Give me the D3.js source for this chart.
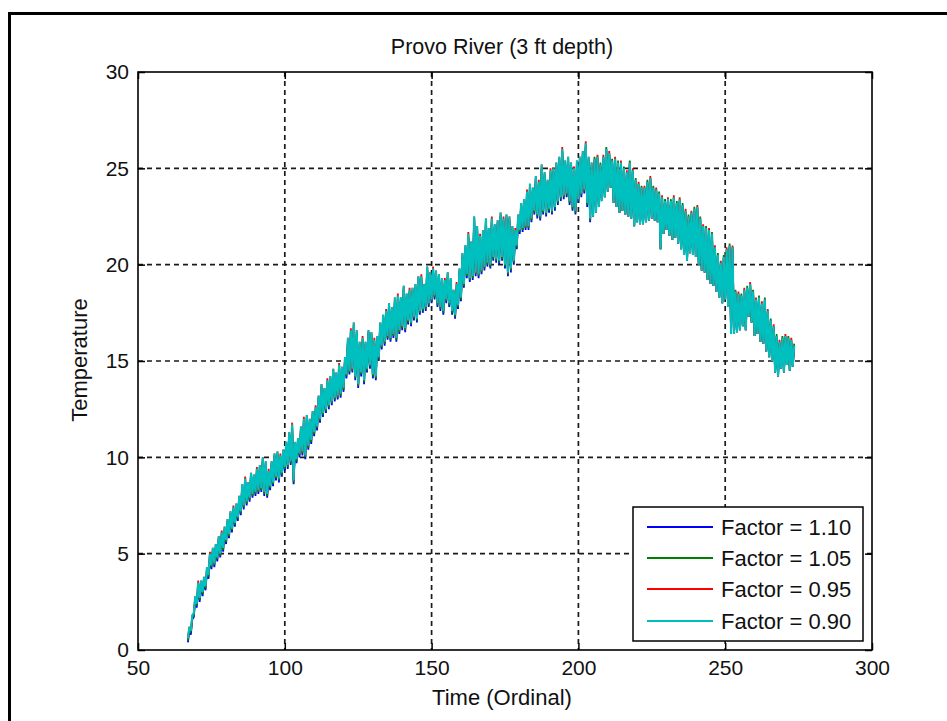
<!DOCTYPE html>
<html>
<head>
<meta charset="utf-8">
<script src="https://cdn.jsdelivr.net/npm/d3@7"></script>
<style>
  html, body { margin: 0; padding: 0; background: #fff; }
  svg text { font-family: Arial, "Liberation Sans", Helvetica, sans-serif; fill: #111; }
</style>
</head>
<body>
<svg id="chart" width="947" height="721"></svg>
<script>
// Provo River water temperature at 3 ft depth, daily low / high per day (day 67 .. 273)
const firstDay = 67;
const lastDay = 273;

const factorLabels = ["Factor = 1.10", "Factor = 1.05", "Factor = 0.95", "Factor = 0.90"];
const seriesColors = ["#0000ff", "#008000", "#ff0000", "#00bfbf"];
const xTicks = [50, 100, 150, 200, 250, 300];
const yTicks = [0, 5, 10, 15, 20, 25, 30];

// Factor = 1.10
const factor110Hi = [
  1.0,1.6,2.6,3.3,3.4,3.6,4.1,4.8,5.1,5.3,
  5.7,5.9,6.2,6.6,7.0,7.2,7.4,7.8,8.4,8.7,
  8.5,9.0,8.9,9.2,9.4,9.8,9.6,9.1,9.6,10.0,
  10.1,9.9,10.2,10.6,11.1,11.5,10.6,10.8,11.4,11.8,
  12.0,11.8,12.2,12.4,13.0,13.6,13.4,13.8,14.0,14.4,
  14.2,14.6,14.5,15.0,16.0,16.4,16.8,16.4,15.8,16.0,
  15.8,16.4,16.3,15.9,16.1,16.8,17.2,17.4,17.8,17.6,
  18.1,18.2,18.1,18.7,18.3,18.5,18.6,18.8,19.2,19.2,
  18.8,19.7,19.4,19.6,19.5,19.3,19.1,19.0,19.4,19.1,
  18.5,18.8,19.6,20.4,20.8,21.4,21.0,22.3,21.8,21.3,
  21.6,22.2,21.7,22.2,21.9,22.1,22.5,22.2,22.4,22.3,
  21.8,21.6,22.4,23.0,23.2,23.6,24.0,23.8,24.4,24.1,
  25.0,24.6,24.2,24.7,24.8,25.1,25.4,25.8,25.2,25.4,
  25.1,24.8,25.2,25.4,25.7,26.1,25.4,25.1,25.4,25.5,
  25.1,25.5,25.9,25.7,25.3,25.4,25.2,25.2,24.9,24.7,
  25.2,24.8,24.3,24.1,23.9,23.9,24.2,24.4,23.9,23.8,
  23.6,23.4,23.2,23.3,23.2,23.4,23.1,23.3,23.0,22.7,
  22.4,22.6,22.8,22.9,22.3,21.9,21.8,21.7,21.5,20.8,
  20.4,20.0,20.3,20.7,20.9,20.8,18.5,18.4,18.3,18.6,
  18.7,18.9,18.5,18.1,18.2,17.9,18.1,17.5,17.0,16.7,
  16.2,15.9,16.1,16.2,16.1,16.0,15.7
];
const factor110Lo = [
  0.4,0.8,1.7,2.2,2.5,2.8,3.1,3.7,4.2,4.3,
  4.6,4.8,5.1,5.5,5.8,6.1,6.4,6.7,7.0,7.3,
  7.5,7.7,7.9,8.0,8.1,8.2,8.0,7.9,8.3,8.5,
  8.8,8.7,9.0,9.3,9.4,9.6,8.6,9.7,10.0,10.1,
  9.9,10.4,10.7,11.1,11.4,11.8,12.1,12.3,12.5,12.7,
  12.9,13.0,13.1,13.4,14.1,14.3,14.4,14.0,13.6,14.2,
  13.8,14.4,14.6,14.1,14.0,15.0,15.6,15.8,16.1,16.0,
  16.2,16.0,16.4,16.6,16.5,16.9,16.8,17.1,17.0,17.4,
  17.5,17.6,17.8,18.0,18.2,17.8,17.6,17.4,18.0,17.8,
  17.4,17.2,17.7,18.1,18.8,19.3,19.1,19.2,19.4,19.3,
  19.5,19.7,19.9,19.8,20.2,20.1,20.0,20.2,19.8,19.4,
  19.6,20.0,20.8,21.6,21.7,21.8,21.8,22.2,22.6,22.4,
  22.3,22.6,22.5,22.7,22.6,22.8,23.1,23.3,23.4,23.5,
  23.1,22.8,22.6,23.2,23.5,23.7,23.0,22.2,22.5,22.7,
  23.0,23.3,23.5,23.8,24.0,23.2,23.0,22.7,22.8,22.6,
  22.5,22.4,22.0,22.2,22.1,22.1,22.2,22.3,22.4,22.3,
  22.2,20.8,21.6,21.8,21.5,21.3,21.4,21.1,20.8,20.5,
  20.2,20.6,20.5,20.4,20.0,19.7,19.6,19.2,19.0,18.9,
  18.6,18.3,18.0,18.2,17.8,16.4,16.4,16.5,16.6,16.8,
  16.6,17.3,17.0,16.3,16.4,16.0,15.9,15.5,15.2,15.0,
  14.4,14.2,14.6,14.4,14.8,14.5,14.7
];

// Factor = 1.05
const factor105Hi = [
  1.1,1.7,2.7,3.4,3.5,3.7,4.2,4.9,5.2,5.4,
  5.8,6.0,6.3,6.7,7.1,7.3,7.5,7.9,8.5,8.8,
  8.6,9.1,9.0,9.3,9.5,9.9,9.7,9.2,9.7,10.1,
  10.2,10.0,10.3,10.7,11.2,11.6,10.7,10.9,11.5,11.9,
  12.1,11.9,12.3,12.5,13.1,13.7,13.5,13.9,14.1,14.5,
  14.3,14.7,14.6,15.1,16.1,16.5,16.9,16.5,15.9,16.1,
  15.9,16.5,16.4,16.0,16.2,16.9,17.3,17.5,17.9,17.7,
  18.2,18.3,18.2,18.8,18.4,18.6,18.7,18.9,19.3,19.3,
  18.9,19.8,19.5,19.7,19.6,19.4,19.2,19.1,19.5,19.2,
  18.6,18.9,19.7,20.5,20.9,21.5,21.1,22.4,21.9,21.4,
  21.7,22.3,21.8,22.3,22.0,22.2,22.6,22.3,22.5,22.4,
  21.9,21.7,22.5,23.1,23.3,23.7,24.1,23.9,24.5,24.2,
  25.1,24.7,24.3,24.8,24.9,25.2,25.5,25.9,25.3,25.5,
  25.2,24.9,25.3,25.5,25.8,26.2,25.5,25.2,25.6,25.6,
  25.3,25.6,26.1,25.8,25.5,25.5,25.4,25.3,25.1,24.8,
  25.4,24.9,24.5,24.2,24.1,24.0,24.4,24.5,24.1,23.9,
  23.8,23.5,23.4,23.4,23.4,23.5,23.3,23.4,23.2,22.8,
  22.6,22.7,23.0,23.0,22.5,22.0,22.0,21.8,21.7,20.9,
  20.6,20.1,20.5,20.8,21.1,20.9,18.7,18.5,18.5,18.7,
  18.9,19.0,18.7,18.2,18.4,18.0,18.3,17.6,17.2,16.8,
  16.4,16.0,16.3,16.3,16.3,16.1,15.9
];
const factor105Lo = [
  0.5,0.9,1.8,2.3,2.6,2.9,3.2,3.8,4.3,4.4,
  4.7,4.9,5.2,5.6,5.9,6.2,6.5,6.8,7.1,7.4,
  7.6,7.8,8.0,8.1,8.2,8.3,8.1,8.0,8.4,8.6,
  8.9,8.8,9.1,9.4,9.5,9.7,8.7,9.8,10.1,10.2,
  10.0,10.5,10.8,11.2,11.5,11.9,12.2,12.4,12.6,12.8,
  13.0,13.1,13.2,13.5,14.2,14.4,14.5,14.1,13.7,14.3,
  13.9,14.5,14.7,14.2,14.1,15.1,15.7,15.9,16.2,16.1,
  16.3,16.1,16.5,16.7,16.6,17.0,16.9,17.2,17.1,17.5,
  17.6,17.7,17.9,18.1,18.3,17.9,17.7,17.5,18.1,17.9,
  17.5,17.3,17.8,18.2,18.9,19.4,19.2,19.3,19.5,19.4,
  19.6,19.8,20.0,19.9,20.3,20.2,20.1,20.3,19.9,19.5,
  19.7,20.1,20.9,21.7,21.8,21.9,21.9,22.3,22.7,22.5,
  22.4,22.7,22.6,22.8,22.7,22.9,23.2,23.4,23.5,23.6,
  23.2,22.9,22.7,23.3,23.6,23.8,23.1,22.3,22.5,22.7,
  23.0,23.3,23.5,23.8,24.0,23.2,23.0,22.7,22.8,22.6,
  22.5,22.4,22.0,22.2,22.1,22.1,22.2,22.3,22.4,22.3,
  22.2,20.8,21.6,21.8,21.5,21.3,21.4,21.1,20.8,20.5,
  20.2,20.6,20.5,20.4,20.0,19.7,19.6,19.2,19.0,18.9,
  18.6,18.3,18.0,18.2,17.8,16.4,16.4,16.5,16.6,16.8,
  16.6,17.3,17.0,16.3,16.4,16.0,15.9,15.5,15.2,15.0,
  14.4,14.2,14.6,14.4,14.8,14.5,14.7
];

// Factor = 0.95
const factor095Hi = [
  1.2,1.8,2.8,3.6,3.6,3.8,4.3,5.1,5.3,5.5,
  5.9,6.2,6.4,6.8,7.2,7.5,7.6,8.0,8.6,9.0,
  8.7,9.2,9.1,9.5,9.6,10.0,9.8,9.4,9.8,10.2,
  10.3,10.2,10.4,10.8,11.3,11.8,10.8,11.0,11.6,12.1,
  12.2,12.0,12.4,12.7,13.2,13.8,13.6,14.1,14.2,14.6,
  14.4,14.9,14.7,15.2,16.2,16.7,17.0,16.6,16.0,16.3,
  16.0,16.6,16.5,16.2,16.3,17.0,17.4,17.7,18.0,17.8,
  18.3,18.5,18.3,18.9,18.5,18.8,18.8,19.0,19.4,19.5,
  19.0,19.9,19.6,19.9,19.7,19.5,19.3,19.3,19.6,19.3,
  18.7,19.1,19.8,20.6,21.0,21.7,21.2,22.5,22.0,21.6,
  21.8,22.4,21.9,22.5,22.1,22.3,22.7,22.5,22.6,22.5,
  22.0,21.9,22.6,23.2,23.4,23.9,24.2,24.0,24.6,24.4,
  25.2,24.8,24.4,25.0,25.0,25.3,25.6,26.1,25.4,25.6,
  25.3,25.1,25.4,25.6,25.9,26.4,25.6,25.3,25.5,25.7,
  25.2,25.7,26.0,25.9,25.4,25.6,25.3,25.4,25.0,24.9,
  25.3,25.0,24.4,24.3,24.0,24.1,24.3,24.6,24.0,24.0,
  23.7,23.6,23.3,23.5,23.3,23.6,23.2,23.5,23.1,22.9,
  22.5,22.8,22.9,23.1,22.4,22.1,21.9,21.9,21.6,21.0,
  20.5,20.2,20.4,20.9,21.0,21.0,18.6,18.6,18.4,18.8,
  18.8,19.1,18.6,18.3,18.3,18.1,18.2,17.7,17.1,16.9,
  16.3,16.1,16.2,16.4,16.2,16.2,15.8
];
const factor095Lo = [
  0.6,1.0,1.9,2.4,2.7,3.0,3.3,3.9,4.4,4.5,
  4.8,5.0,5.3,5.7,6.0,6.3,6.6,6.9,7.2,7.5,
  7.7,7.9,8.1,8.2,8.3,8.4,8.2,8.1,8.5,8.7,
  9.0,8.9,9.2,9.5,9.6,9.8,8.8,9.9,10.2,10.3,
  10.1,10.6,10.9,11.3,11.6,12.0,12.3,12.5,12.7,12.9,
  13.1,13.2,13.3,13.6,14.3,14.5,14.6,14.2,13.8,14.4,
  14.0,14.6,14.8,14.3,14.2,15.2,15.8,16.0,16.3,16.2,
  16.4,16.2,16.6,16.8,16.7,17.1,17.0,17.3,17.2,17.6,
  17.7,17.8,18.0,18.2,18.4,18.0,17.8,17.6,18.2,18.0,
  17.6,17.4,17.9,18.3,19.0,19.5,19.3,19.4,19.6,19.5,
  19.7,19.9,20.1,20.0,20.4,20.3,20.2,20.4,20.0,19.6,
  19.8,20.2,21.0,21.8,21.9,22.0,22.0,22.4,22.8,22.6,
  22.5,22.8,22.7,22.9,22.8,23.0,23.3,23.5,23.6,23.7,
  23.3,23.0,22.8,23.4,23.7,23.9,23.2,22.4,22.5,22.7,
  23.0,23.3,23.5,23.8,24.0,23.2,23.0,22.7,22.8,22.6,
  22.5,22.4,22.0,22.2,22.1,22.1,22.2,22.3,22.4,22.3,
  22.2,20.8,21.6,21.8,21.5,21.3,21.4,21.1,20.8,20.5,
  20.2,20.6,20.5,20.4,20.0,19.7,19.6,19.2,19.0,18.9,
  18.6,18.3,18.0,18.2,17.8,16.4,16.4,16.5,16.6,16.8,
  16.6,17.3,17.0,16.3,16.4,16.0,15.9,15.5,15.2,15.0,
  14.4,14.2,14.6,14.4,14.8,14.5,14.7
];

// Factor = 0.90
const factor090Hi = [
  1.2,1.8,2.8,3.5,3.6,3.8,4.3,5.0,5.3,5.5,
  5.9,6.1,6.4,6.8,7.2,7.4,7.6,8.0,8.6,8.9,
  8.7,9.2,9.1,9.4,9.6,10.0,9.8,9.3,9.8,10.2,
  10.3,10.1,10.4,10.8,11.3,11.7,10.8,11.0,11.6,12.0,
  12.2,12.0,12.4,12.6,13.2,13.8,13.6,14.0,14.2,14.6,
  14.4,14.8,14.7,15.2,16.2,16.6,17.0,16.6,16.0,16.2,
  16.0,16.6,16.5,16.1,16.3,17.0,17.4,17.6,18.0,17.8,
  18.3,18.4,18.3,18.9,18.5,18.7,18.8,19.0,19.4,19.4,
  19.0,19.9,19.6,19.8,19.7,19.5,19.3,19.2,19.6,19.3,
  18.7,19.0,19.8,20.6,21.0,21.6,21.2,22.5,22.0,21.5,
  21.8,22.4,21.9,22.4,22.1,22.3,22.7,22.4,22.6,22.5,
  22.0,21.8,22.6,23.2,23.4,23.8,24.2,24.0,24.6,24.3,
  25.2,24.8,24.4,24.9,25.0,25.3,25.6,26.0,25.4,25.6,
  25.3,25.0,25.4,25.6,25.9,26.3,25.6,25.3,25.5,25.6,
  25.2,25.6,26.0,25.8,25.4,25.5,25.3,25.3,25.0,24.8,
  25.3,24.9,24.4,24.2,24.0,24.0,24.3,24.5,24.0,23.9,
  23.7,23.5,23.3,23.4,23.3,23.5,23.2,23.4,23.1,22.8,
  22.5,22.7,22.9,23.0,22.4,22.0,21.9,21.8,21.6,20.9,
  20.5,20.1,20.4,20.8,21.0,20.9,18.6,18.5,18.4,18.7,
  18.8,19.0,18.6,18.2,18.3,18.0,18.2,17.6,17.1,16.8,
  16.3,16.0,16.2,16.3,16.2,16.1,15.8
];
const factor090Lo = [
  0.6,1.0,1.9,2.4,2.7,3.0,3.3,3.9,4.4,4.5,
  4.8,5.0,5.3,5.7,6.0,6.3,6.6,6.9,7.2,7.5,
  7.7,7.9,8.1,8.2,8.3,8.4,8.2,8.1,8.5,8.7,
  9.0,8.9,9.2,9.5,9.6,9.8,8.8,9.9,10.2,10.3,
  10.1,10.6,10.9,11.3,11.6,12.0,12.3,12.5,12.7,12.9,
  13.1,13.2,13.3,13.6,14.3,14.5,14.6,14.2,13.8,14.4,
  14.0,14.6,14.8,14.3,14.2,15.2,15.8,16.0,16.3,16.2,
  16.4,16.2,16.6,16.8,16.7,17.1,17.0,17.3,17.2,17.6,
  17.7,17.8,18.0,18.2,18.4,18.0,17.8,17.6,18.2,18.0,
  17.6,17.4,17.9,18.3,19.0,19.5,19.3,19.4,19.6,19.5,
  19.7,19.9,20.1,20.0,20.4,20.3,20.2,20.4,20.0,19.6,
  19.8,20.2,21.0,21.8,21.9,22.0,22.0,22.4,22.8,22.6,
  22.5,22.8,22.7,22.9,22.8,23.0,23.3,23.5,23.6,23.7,
  23.3,23.0,22.8,23.4,23.7,23.9,23.2,22.4,22.5,22.7,
  23.0,23.3,23.5,23.8,24.0,23.2,23.0,22.7,22.8,22.6,
  22.5,22.4,22.0,22.2,22.1,22.1,22.2,22.3,22.4,22.3,
  22.2,20.8,21.6,21.8,21.5,21.3,21.4,21.1,20.8,20.5,
  20.2,20.6,20.5,20.4,20.0,19.7,19.6,19.2,19.0,18.9,
  18.6,18.3,18.0,18.2,17.8,16.4,16.4,16.5,16.6,16.8,
  16.6,17.3,17.0,16.3,16.4,16.0,15.9,15.5,15.2,15.0,
  14.4,14.2,14.6,14.4,14.8,14.5,14.7
];

const seriesHi = [factor110Hi, factor105Hi, factor095Hi, factor090Hi];
const seriesLo = [factor110Lo, factor105Lo, factor095Lo, factor090Lo];
const days = d3.range(firstDay, lastDay + 1);

// ---- layout ----
const svg = d3.select("#chart");
const plot = { left: 138, right: 872, top: 72, bottom: 650 };

const x = d3.scaleLinear().domain([50, 300]).range([plot.left, plot.right]);
const y = d3.scaleLinear().domain([0, 30]).range([plot.bottom, plot.top]);

// figure frame
svg.append("path")
  .attr("d", "M9.5,721 L9.5,13.5 L947,13.5")
  .attr("fill", "none")
  .attr("stroke", "#000")
  .attr("stroke-width", 3);

// dashed grid
const grid = svg.append("g").attr("stroke", "#1a1a1a").attr("stroke-width", 1.7)
  .attr("stroke-dasharray", "5,4");
grid.selectAll("line.gx").data(xTicks.filter(t => t > 50 && t < 300)).join("line")
  .attr("class", "gx")
  .attr("x1", d => x(d)).attr("x2", d => x(d))
  .attr("y1", plot.top).attr("y2", plot.bottom);
grid.selectAll("line.gy").data(yTicks.filter(t => t > 0 && t < 30)).join("line")
  .attr("class", "gy")
  .attr("x1", plot.left).attr("x2", plot.right)
  .attr("y1", d => y(d)).attr("y2", d => y(d));

// temperature traces: low then high within each day
const line = d3.line().x(p => x(p[0])).y(p => y(p[1]));
const traces = svg.append("g").attr("fill", "none")
  .attr("stroke-linejoin", "miter");
seriesHi.forEach((hi, s) => {
  const lo = seriesLo[s];
  const pts = days.flatMap((d, i) => [[d, lo[i]], [d + 0.5, hi[i]]]);
  traces.append("path")
    .attr("d", line(pts))
    .attr("stroke", seriesColors[s])
    .attr("stroke-width", s === 3 ? 2.1 : 1.8);
});

// axes with inward ticks on all four sides
const tickFont = "21px";
const axB = svg.append("g").attr("transform", `translate(0,${plot.bottom})`)
  .call(d3.axisBottom(x).tickValues(xTicks).tickSizeInner(-7).tickSizeOuter(0).tickPadding(10));
const axL = svg.append("g").attr("transform", `translate(${plot.left},0)`)
  .call(d3.axisLeft(y).tickValues(yTicks).tickSizeInner(-7).tickSizeOuter(0).tickPadding(9));
const axT = svg.append("g").attr("transform", `translate(0,${plot.top})`)
  .call(d3.axisTop(x).tickValues(xTicks).tickSizeInner(-7).tickSizeOuter(0).tickFormat(""));
const axR = svg.append("g").attr("transform", `translate(${plot.right},0)`)
  .call(d3.axisRight(y).tickValues(yTicks).tickSizeInner(-7).tickSizeOuter(0).tickFormat(""));
[axB, axL, axT, axR].forEach(g => {
  g.select(".domain").remove();
  g.selectAll(".tick line").attr("stroke", "#000").attr("stroke-width", 1.5);
  g.selectAll("text").attr("font-size", tickFont).attr("fill", "#111")
    .attr("font-family", "Arial, 'Liberation Sans', sans-serif");
});

// axes box
svg.append("rect")
  .attr("x", plot.left).attr("y", plot.top)
  .attr("width", plot.right - plot.left).attr("height", plot.bottom - plot.top)
  .attr("fill", "none").attr("stroke", "#000").attr("stroke-width", 1.6);

// titles
svg.append("text").attr("x", 502).attr("y", 54)
  .attr("text-anchor", "middle").attr("font-size", "21.5px")
  .text("Provo River (3 ft depth)");
svg.append("text").attr("x", 502).attr("y", 705)
  .attr("text-anchor", "middle").attr("font-size", "22px")
  .text("Time (Ordinal)");
svg.append("text")
  .attr("transform", "translate(87,360) rotate(-90)")
  .attr("text-anchor", "middle").attr("font-size", "22px")
  .text("Temperature");

// legend
const legend = svg.append("g");
legend.append("rect")
  .attr("x", 633).attr("y", 507).attr("width", 230).attr("height", 134)
  .attr("fill", "#fff").attr("stroke", "#000").attr("stroke-width", 1.5);
const rowY = [527, 558, 589, 621];
factorLabels.forEach((lab, i) => {
  legend.append("line")
    .attr("x1", 647).attr("x2", 713)
    .attr("y1", rowY[i]).attr("y2", rowY[i])
    .attr("stroke", seriesColors[i]).attr("stroke-width", 1.8);
  legend.append("text")
    .attr("x", 721).attr("y", rowY[i] + 8)
    .attr("font-size", "22px")
    .text(lab);
});
</script>
</body>
</html>
